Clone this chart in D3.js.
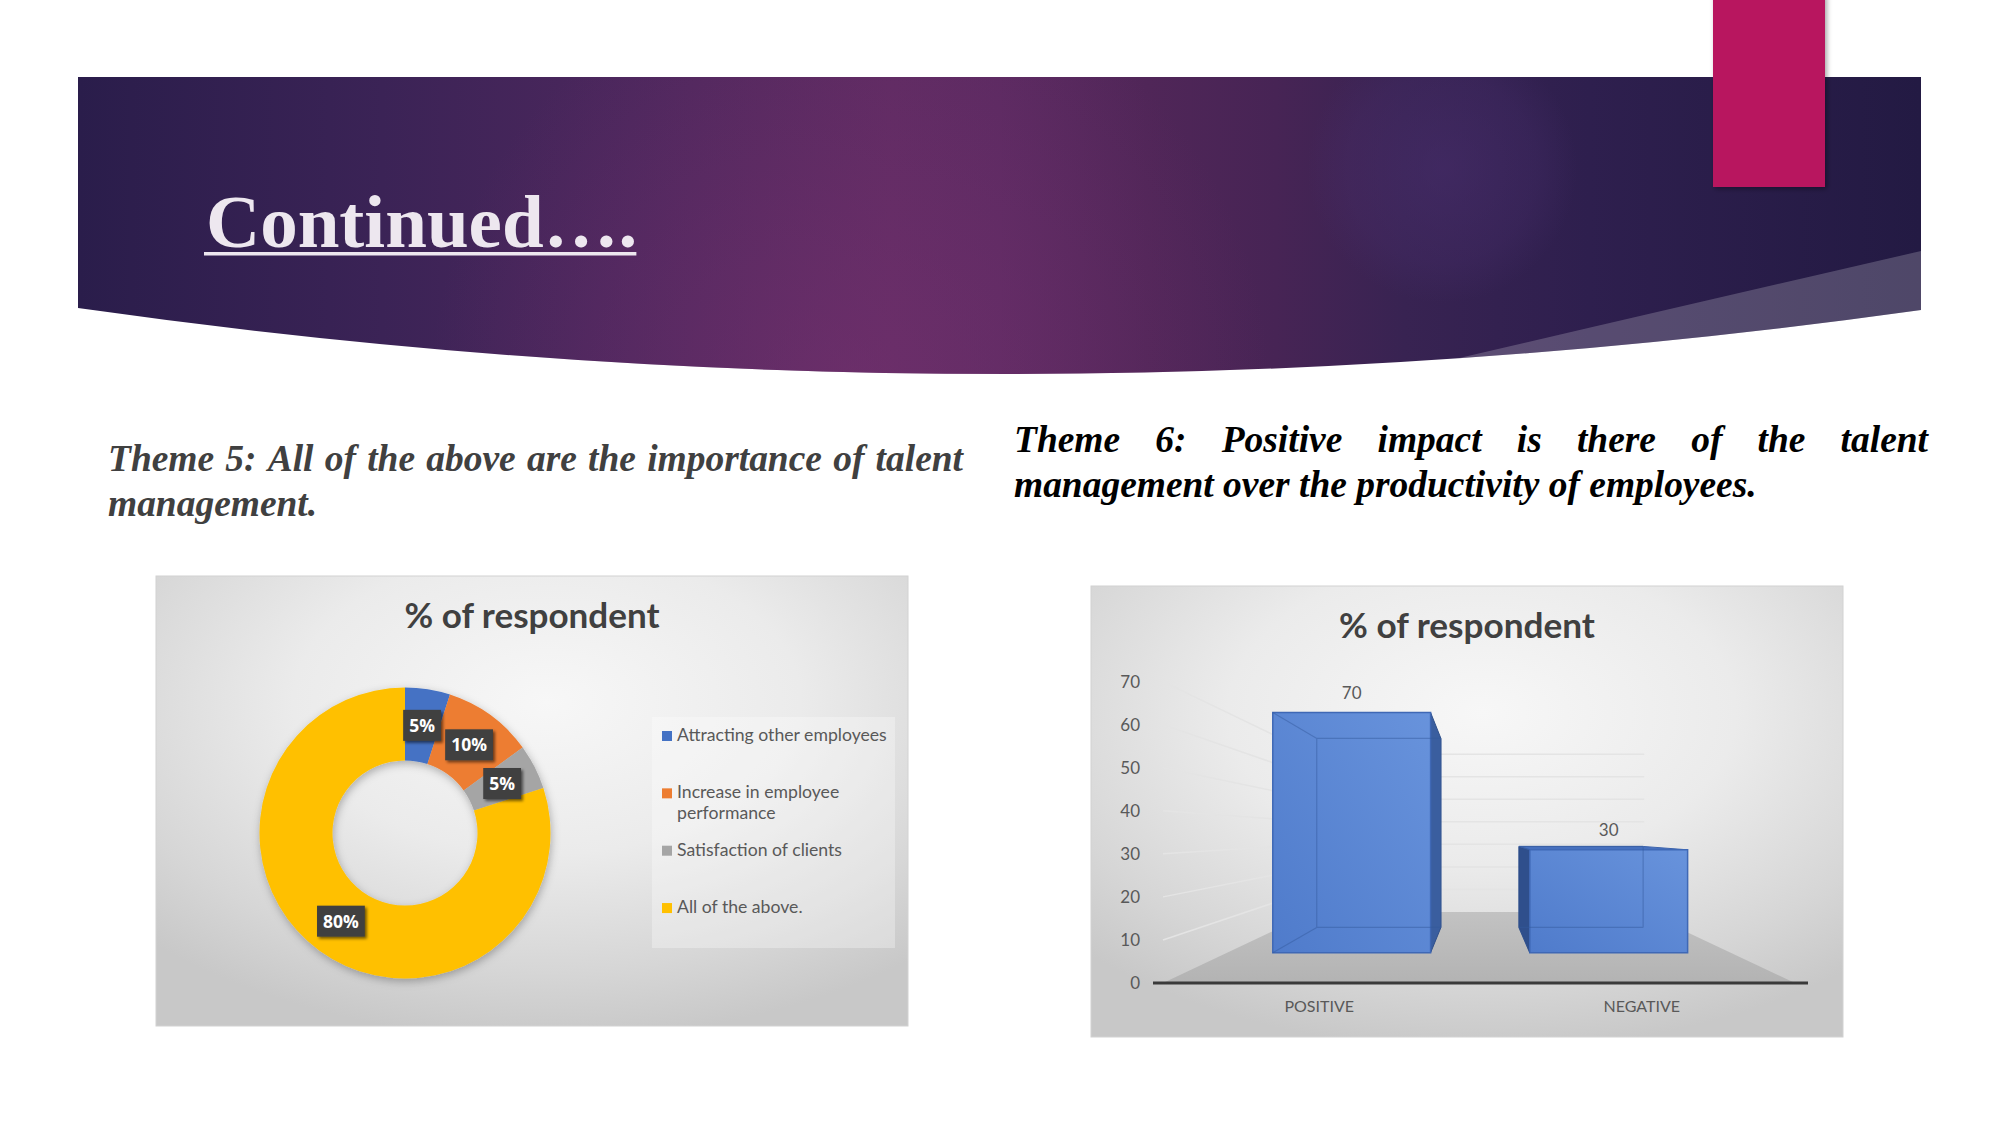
<!DOCTYPE html>
<html>
<head>
<meta charset="utf-8">
<script src="https://cdn.jsdelivr.net/npm/d3@7"></script>
<style>
  html, body { margin: 0; padding: 0; background: #ffffff; }
  svg { display: block; }
</style>
</head>
<body>
<svg id="slide" width="2001" height="1125"></svg>
<script>
// ---------------- DATA ----------------
const slideTitle = "Continued….";
const theme5Text = ["Theme 5: All of the above are the importance of talent", "management."];
const theme6Text = ["Theme 6: Positive impact is there of the talent", "management over the productivity of employees."];

const donutTitle = "% of respondent";
const donutCategories = ["Attracting other employees", "Increase in employee performance", "Satisfaction of clients", "All of the above."];
const donutValues = [5, 10, 5, 80];
const donutLabels = ["5%", "10%", "5%", "80%"];
const donutColors = ["#4472c4", "#ed7d31", "#a5a5a5", "#ffc000"];

const barTitle = "% of respondent";
const barCategories = ["POSITIVE", "NEGATIVE"];
const barValues = [70, 30];
const barTicks = [0, 10, 20, 30, 40, 50, 60, 70];

// ---------------- HELPERS ----------------
const svg = d3.select("#slide");
const defs = svg.append("defs");

function fitFont(sel, target) {
  const len = sel.node().getComputedTextLength();
  const fs = parseFloat(sel.attr("font-size"));
  const nfs = fs * target / len;
  sel.attr("font-size", nfs);
  return nfs;
}
function shadowFilter(id, dx, dy, sd, op) {
  const f = defs.append("filter").attr("id", id)
    .attr("x", "-30%").attr("y", "-30%").attr("width", "160%").attr("height", "160%");
  f.append("feDropShadow").attr("dx", dx).attr("dy", dy)
    .attr("stdDeviation", sd).attr("flood-color", "#000").attr("flood-opacity", op);
}
shadowFilter("shPink", 2, 2, 2.5, 0.35);
shadowFilter("shLabel", 2, 2, 1.5, 0.55);
shadowFilter("shDonut", 1, 3, 4, 0.28);

// ---------------- BANNER ----------------
const bg = defs.append("linearGradient").attr("id", "bannerGrad")
  .attr("x1", "0").attr("y1", "0").attr("x2", "1").attr("y2", "0");
[[0, "#2a1d4b"], [0.165, "#3b2356"], [0.3, "#4c275d"], [0.37, "#55295f"], [0.44, "#5e2b62"],
 [0.5, "#5b2a61"], [0.58, "#502658"], [0.65, "#472455"], [0.72, "#382352"], [0.82, "#2e1f4e"], [1, "#231a43"]]
  .forEach(s => bg.append("stop").attr("offset", s[0]).attr("stop-color", s[1]));

const pinkGlow = defs.append("radialGradient").attr("id", "pinkGlow")
  .attr("gradientUnits", "userSpaceOnUse").attr("cx", 850).attr("cy", 385).attr("r", 420);
pinkGlow.append("stop").attr("offset", 0).attr("stop-color", "#7a3272").attr("stop-opacity", 0.5);
pinkGlow.append("stop").attr("offset", 1).attr("stop-color", "#7a3272").attr("stop-opacity", 0);

const blueGlow = defs.append("radialGradient").attr("id", "blueGlow")
  .attr("gradientUnits", "userSpaceOnUse").attr("cx", 1442).attr("cy", 168).attr("r", 135);
blueGlow.append("stop").attr("offset", 0).attr("stop-color", "#4a2f70").attr("stop-opacity", 0.5);
blueGlow.append("stop").attr("offset", 0.7).attr("stop-color", "#4a2f70").attr("stop-opacity", 0.25);
blueGlow.append("stop").attr("offset", 1).attr("stop-color", "#4a2f70").attr("stop-opacity", 0);

const bannerPath = "M78,77 L1921,77 L1921,310 Q999,439 78,308 Z";
defs.append("clipPath").attr("id", "bannerClip").append("path").attr("d", bannerPath);

const banner = svg.append("g");
banner.append("path").attr("d", bannerPath).attr("fill", "url(#bannerGrad)");
const bclip = banner.append("g").attr("clip-path", "url(#bannerClip)");
bclip.append("rect").attr("x", 78).attr("y", 77).attr("width", 1845).attr("height", 370).attr("fill", "url(#pinkGlow)");
bclip.append("rect").attr("x", 78).attr("y", 77).attr("width", 1845).attr("height", 370).attr("fill", "url(#blueGlow)");
bclip.append("path").attr("d", "M1425,366 Q1700,302 1921,251 L1921,440 L1425,440 Z")
  .attr("fill", "#ffffff").attr("fill-opacity", 0.2);

// pink accent bar
svg.append("rect").attr("x", 1713).attr("y", -6).attr("width", 112).attr("height", 193)
  .attr("fill", "#b8135f").attr("filter", "url(#shPink)");

// title
const titleT = svg.append("text").attr("x", 206).attr("y", 247)
  .attr("font-family", "'Liberation Serif', 'DejaVu Serif', serif").attr("font-weight", "bold")
  .attr("font-size", 75).attr("fill", "#ede7ef").text(slideTitle);
const tLen = titleT.node().getComputedTextLength();
svg.append("rect").attr("x", 204).attr("y", 252).attr("width", tLen + 1).attr("height", 3.5).attr("fill", "#ede7ef");

// ---------------- THEME TEXTS ----------------
const serifBI = { "font-family": "'Liberation Serif', 'DejaVu Serif', serif", "font-weight": "bold", "font-style": "italic" };
function styledText(g, txt, x, y, fs, color) {
  const t = g.append("text").attr("x", x).attr("y", y).attr("font-size", fs).attr("fill", color).text(txt);
  Object.entries(serifBI).forEach(([k, v]) => t.attr(k, v));
  return t;
}
const textG = svg.append("g");
const probe = styledText(textG, theme6Text[1], 1014, 497, 40, "#000");
const themeFs = fitFont(probe, 743);

function justify(g, txt, x0, x1, y, fs, color) {
  const words = txt.split(" ");
  const nodes = words.map(w => styledText(g, w, 0, y, fs, color));
  const widths = nodes.map(n => n.node().getComputedTextLength());
  const gap = ((x1 - x0) - d3.sum(widths)) / (words.length - 1);
  let x = x0;
  nodes.forEach((n, i) => { n.attr("x", x); x += widths[i] + gap; });
}
justify(textG, theme5Text[0], 108, 963, 471, themeFs, "#404040");
styledText(textG, theme5Text[1], 108, 516, themeFs, "#404040");
justify(textG, theme6Text[0], 1014, 1928, 452, themeFs, "#000000");

// ---------------- CHART BACKGROUND ----------------
const cbg = defs.append("radialGradient").attr("id", "chartBg")
  .attr("cx", "52%").attr("cy", "28%").attr("r", "75%");
[[0, "#f7f7f7"], [0.45, "#ebebeb"], [0.8, "#d6d6d6"], [1, "#c8c8c8"]]
  .forEach(s => cbg.append("stop").attr("offset", s[0]).attr("stop-color", s[1]));

const sans = "Lato, Carlito, 'Open Sans', sans-serif";

// ---------------- DONUT CHART ----------------
const dg = svg.append("g");
dg.append("rect").attr("x", 156).attr("y", 576).attr("width", 752).attr("height", 450)
  .attr("fill", "url(#chartBg)").attr("stroke", "#d2d2d2").attr("stroke-width", 1);
const dTitle = dg.append("text").attr("x", 532).attr("y", 628).attr("text-anchor", "middle")
  .attr("font-family", sans).attr("font-weight", "bold").attr("font-size", 33)
  .attr("fill", "#404040").text(donutTitle);
fitFont(dTitle, 255);

const pie = d3.pie().sort(null).value(d => d)(donutValues);
const arc = d3.arc().innerRadius(72.5).outerRadius(145.5);
const labelArc = d3.arc().innerRadius(109).outerRadius(109);
const donut = dg.append("g").attr("transform", "translate(405,833)");
donut.append("g").attr("filter", "url(#shDonut)")
  .selectAll("path").data(pie).join("path")
  .attr("d", arc).attr("fill", (d, i) => donutColors[i]);

const lab = donut.selectAll("g.lab").data(pie).join("g").attr("class", "lab")
  .attr("transform", d => `translate(${labelArc.centroid(d)})`);
lab.each(function (d, i) {
  const g = d3.select(this);
  const r = g.append("rect").attr("fill", "#3f3f3f").attr("filter", "url(#shLabel)");
  const t = g.append("text").attr("text-anchor", "middle").attr("y", 6.5)
    .attr("font-family", "'Open Sans', 'Noto Sans', sans-serif").attr("font-weight", "bold")
    .attr("font-size", 17.5).attr("fill", "#ffffff").text(donutLabels[i]);
  const w = t.node().getComputedTextLength() + 12;
  r.attr("x", -w / 2).attr("y", -15.5).attr("width", w).attr("height", 31);
});

// legend
dg.append("rect").attr("x", 652).attr("y", 717).attr("width", 243).attr("height", 231)
  .attr("fill", "#ffffff").attr("fill-opacity", 0.3);
const legY = d3.scaleBand().domain(donutCategories).range([712, 941.4]);
const probeL = dg.append("text").attr("font-family", sans).attr("font-size", 17).text(donutCategories[0]);
const legFs = fitFont(probeL, 210);
probeL.remove();
const legend = dg.selectAll("g.leg").data(donutCategories).join("g").attr("class", "leg");
legend.each(function (c, i) {
  const g = d3.select(this);
  const base = legY(c) + 29;
  g.append("rect").attr("x", 662).attr("y", base - 10).attr("width", 10).attr("height", 10).attr("fill", donutColors[i]);
  const t = g.append("text").attr("x", 677).attr("y", base).attr("font-family", sans)
    .attr("font-size", legFs).attr("fill", "#595959");
  const words = c.split(" ");
  let line = [];
  let ts = t.append("tspan").attr("x", 677).attr("dy", 0);
  words.forEach(w => {
    line.push(w);
    ts.text(line.join(" "));
    if (ts.node().getComputedTextLength() > 215 && line.length > 1) {
      line.pop(); ts.text(line.join(" "));
      line = [w];
      ts = t.append("tspan").attr("x", 677).attr("dy", 21).text(w);
    }
  });
});

// ---------------- 3D BAR CHART ----------------
const bgc = svg.append("g");
bgc.append("rect").attr("x", 1091).attr("y", 586).attr("width", 752).attr("height", 451)
  .attr("fill", "url(#chartBg)").attr("stroke", "#d2d2d2").attr("stroke-width", 1);
const bTitle = bgc.append("text").attr("x", 1467).attr("y", 638).attr("text-anchor", "middle")
  .attr("font-family", sans).attr("font-weight", "bold").attr("font-size", 33)
  .attr("fill", "#404040").text(barTitle);
fitFont(bTitle, 256);

const yS = d3.scaleLinear().domain([0, 70]).range([983, 681.6]);
const xS = d3.scaleBand().domain(barCategories).range([1158, 1803]);
const barW = xS.bandwidth() * 0.614;
const VP = [1479, 834];
const depth = { floorFront: 1, floorBack: 0.523, barFront: 0.797, barBack: 0.627 };
const proj = (px, py, s) => [VP[0] + (px - VP[0]) * s, VP[1] + (py - VP[1]) * s];
const floorX = [1163, 1795];
const poly = pts => "M" + pts.map(p => p.join(",")).join("L") + "Z";

const grid = bgc.append("g").attr("stroke", "#e4e4e4").attr("stroke-width", 1.5).attr("fill", "none");
barTicks.filter(v => v > 0).forEach(v => {
  const a = [floorX[0], yS(v)];
  const b = proj(floorX[0], yS(v), depth.floorBack);
  const c = proj(floorX[1], yS(v), depth.floorBack);
  grid.append("path").attr("d", `M${a}L${b}L${c}`);
});

const floorGrad = defs.append("linearGradient").attr("id", "floorGrad")
  .attr("x1", 0).attr("y1", 1).attr("x2", 0).attr("y2", 0);
floorGrad.append("stop").attr("offset", 0).attr("stop-color", "#b3b3b3");
floorGrad.append("stop").attr("offset", 1).attr("stop-color", "#c2c2c2");
bgc.append("path").attr("d", poly([
  proj(floorX[0], yS(0), depth.floorFront), proj(floorX[1], yS(0), depth.floorFront),
  proj(floorX[1], yS(0), depth.floorBack), proj(floorX[0], yS(0), depth.floorBack)
])).attr("fill", "url(#floorGrad)");

bgc.append("line").attr("x1", 1153).attr("x2", 1808).attr("y1", yS(0)).attr("y2", yS(0))
  .attr("stroke", "#3a3a3a").attr("stroke-width", 3);

bgc.selectAll("text.yt").data(barTicks).join("text").attr("class", "yt")
  .attr("x", 1140).attr("y", d => yS(d) + 6).attr("text-anchor", "end")
  .attr("font-family", sans).attr("font-size", 17).attr("fill", "#595959").text(d => d);

const frontGrad = defs.append("linearGradient").attr("id", "frontGrad")
  .attr("x1", 0).attr("y1", 1).attr("x2", 1).attr("y2", 0);
frontGrad.append("stop").attr("offset", 0).attr("stop-color", "#4f7bcb");
frontGrad.append("stop").attr("offset", 1).attr("stop-color", "#6893dc");

const bars = bgc.selectAll("g.bar").data(barCategories).join("g").attr("class", "bar");
bars.each(function (c, i) {
  const g = d3.select(this);
  const xl = xS(c) + (xS.bandwidth() - barW) / 2, xr = xl + barW;
  const yt = yS(barValues[i]), yb = yS(0);
  const sf = depth.barFront, sb = depth.barBack;
  const F = { tl: proj(xl, yt, sf), tr: proj(xr, yt, sf), bl: proj(xl, yb, sf), br: proj(xr, yb, sf) };
  const B = { tl: proj(xl, yt, sb), tr: proj(xr, yt, sb), bl: proj(xl, yb, sb), br: proj(xr, yb, sb) };
  if (F.tr[0] < VP[0]) {
    g.append("path").attr("d", poly([F.tr, B.tr, B.br, F.br])).attr("fill", "#3a5e9f")
      .attr("stroke", "#30508a").attr("stroke-width", 1);
  }
  if (F.tl[0] > VP[0]) {
    g.append("path").attr("d", poly([F.tl, B.tl, B.bl, F.bl])).attr("fill", "#2f4f8c")
      .attr("stroke", "#2a4780").attr("stroke-width", 1);
  }
  if (F.tl[1] > VP[1]) {
    g.append("path").attr("d", poly([F.tl, F.tr, B.tr, B.tl])).attr("fill", "#4670be")
      .attr("stroke", "#3d64ad").attr("stroke-width", 1);
  }
  g.append("path").attr("d", poly([F.tl, F.tr, F.br, F.bl])).attr("fill", "url(#frontGrad)")
    .attr("stroke", "#3f68b5").attr("stroke-width", 1.5);
  g.append("path").attr("d", `M${F.tl}L${B.tl}L${B.tr}M${B.tl}L${B.bl}L${B.br}M${B.bl}L${F.bl}M${B.tr}L${B.br}`)
    .attr("fill", "none").attr("stroke", "#34589c").attr("stroke-opacity", 0.45).attr("stroke-width", 1.2);
  g.append("text").attr("x", (F.tl[0] + F.tr[0]) / 2).attr("y", F.tl[1] - 14)
    .attr("text-anchor", "middle").attr("font-family", sans).attr("font-size", 17)
    .attr("fill", "#595959").text(barValues[i]);
});

bgc.selectAll("text.xc").data(barCategories).join("text").attr("class", "xc")
  .attr("x", d => xS(d) + xS.bandwidth() / 2).attr("y", 1012).attr("text-anchor", "middle")
  .attr("font-family", sans).attr("font-size", 16).attr("fill", "#595959").text(d => d);
</script>
</body>
</html>
